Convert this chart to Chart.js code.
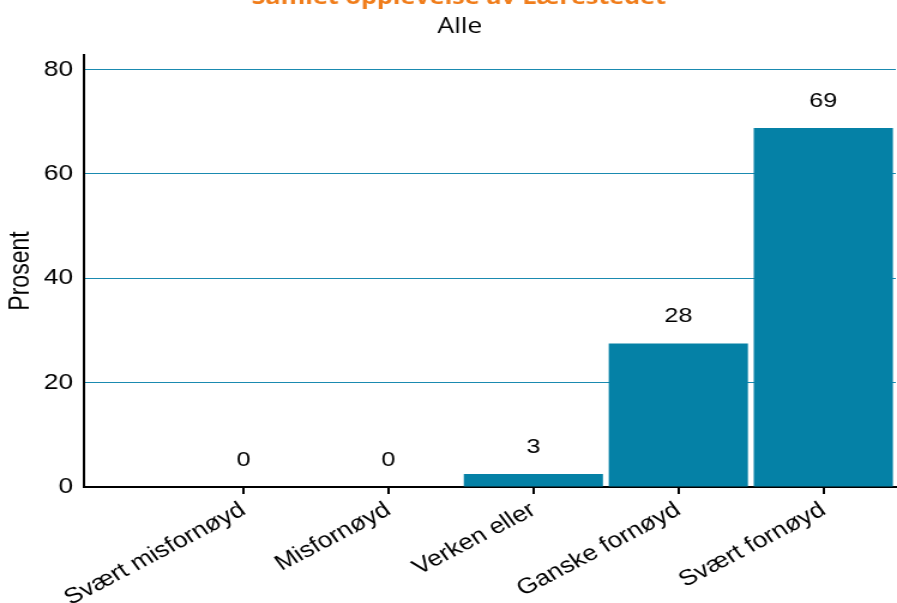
<!DOCTYPE html>
<html>
<head>
<meta charset="utf-8">
<script src="https://cdn.jsdelivr.net/npm/chart.js@4"></script>
<style>
  html, body { margin: 0; padding: 0; background: #fff; overflow: hidden; }
  /* the original picture is stretched sideways, so draw narrower and stretch */
  #wrap { width: 748px; height: 603px; position: relative; transform: scaleX(1.1992); transform-origin: 0 0; }
</style>
</head>
<body>
<div id="wrap"><canvas id="chart"></canvas></div>
<script>
// Chart data
const categories = ["Svært misfornøyd", "Misfornøyd", "Verken eller", "Ganske fornøyd", "Svært fornøyd"];
const percentValues = [0, 0, 2.5, 27.5, 68.8];
const yTicks = [0, 20, 40, 60, 80];

const titleText = "Samlet opplevelse av Lærestedet";
const subtitleText = "Alle";

const barColor = "#0581a6";
const gridColor = "#1a8ab0";
const labelFont = "'Liberation Sans', Arial, sans-serif";

// Title + subtitle, title sits partly above the canvas like in the original
const headerPlugin = {
  id: 'header',
  afterDraw(chart) {
    const ctx = chart.ctx;
    ctx.save();
    ctx.textAlign = 'center';
    ctx.textBaseline = 'alphabetic';
    ctx.fillStyle = '#f07d1b';
    ctx.font = "bold 21px 'Open Sans', sans-serif";
    ctx.fillText(titleText, 382.5, 4);
    ctx.fillStyle = '#000';
    ctx.font = "22px 'Open Sans', sans-serif";
    ctx.fillText(subtitleText, 383.5, 33);
    ctx.restore();
  }
};

// Value labels above each bar
const valueLabels = {
  id: 'valueLabels',
  afterDatasetsDraw(chart) {
    const ctx = chart.ctx;
    const meta = chart.getDatasetMeta(0);
    ctx.save();
    ctx.fillStyle = '#000';
    ctx.font = "21px " + labelFont;
    ctx.textAlign = 'center';
    ctx.textBaseline = 'middle';
    meta.data.forEach((bar, i) => {
      ctx.fillText(String(Math.round(percentValues[i])), bar.x, bar.y - 27);
    });
    ctx.restore();
  }
};

const ctx = document.getElementById('chart').getContext('2d');
new Chart(ctx, {
  type: 'bar',
  data: {
    datasets: [{
      data: percentValues.map((v, i) => ({ x: i, y: v })),
      backgroundColor: barColor,
      borderWidth: 0,
      barPercentage: 0.96,
      categoryPercentage: 1
    }]
  },
  options: {
    responsive: true,
    maintainAspectRatio: false,
    animation: false,
    layout: { padding: { top: 55, right: 1, left: 4, bottom: 0 } },
    plugins: {
      legend: { display: false },
      tooltip: { enabled: false }
    },
    scales: {
      x: {
        type: 'linear',
        offset: false,
        min: -1.1,
        max: 4.5,
        afterBuildTicks(scale) {
          scale.ticks = categories.map((c, i) => ({ value: i }));
        },
        afterFit(scale) { scale.height = 116; },
        border: { color: '#000', width: 2 },
        grid: {
          offset: false,
          drawOnChartArea: false,
          drawTicks: true,
          tickLength: 7,
          color: '#000',
          lineWidth: 2
        },
        ticks: {
          autoSkip: false,
          minRotation: 32,
          maxRotation: 32,
          padding: 3,
          color: '#000',
          font: { family: labelFont, size: 22 },
          callback: v => categories[v]
        }
      },
      y: {
        min: 0,
        max: 82.8,
        afterBuildTicks(scale) {
          scale.ticks = yTicks.map(v => ({ value: v }));
        },
        afterFit(scale) { scale.width = 66; },
        border: { color: '#000', width: 2 },
        grid: {
          drawTicks: false,
          color: ctx => ctx.tick && ctx.tick.value === 0 ? 'rgba(0,0,0,0)' : gridColor,
          lineWidth: 1
        },
        ticks: {
          padding: 9,
          color: '#000',
          font: { family: labelFont, size: 22 }
        },
        title: {
          display: true,
          text: 'Prosent',
          color: '#000',
          font: { family: labelFont, size: 23 },
          padding: { top: 0, bottom: 0 }
        }
      }
    }
  },
  plugins: [headerPlugin, valueLabels]
});
</script>
</body>
</html>
